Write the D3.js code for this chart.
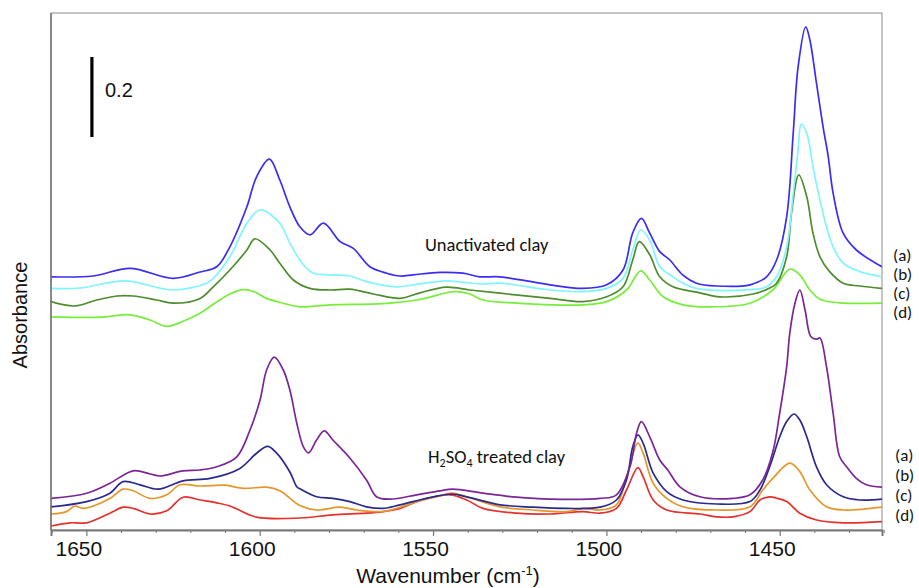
<!DOCTYPE html>
<html>
<head>
<meta charset="utf-8">
<script src="https://cdn.jsdelivr.net/npm/d3@7"></script>
<style>
  body { margin: 0; background: #fff; }
  text { font-family: "Liberation Sans", Arial, sans-serif; }
  .note { font-family: Carlito, Lato, "Liberation Sans", sans-serif; }
</style>
</head>
<body>
<svg id="chart" width="919" height="588"></svg>
<script>
// IR spectra of adsorbed pyridine, [wavenumber (cm-1), absorbance incl. stacking offset]
// Unactivated clay
var unactA = [[1660.2,0.633],[1648.1,0.635],[1637.4,0.654],[1625.0,0.629],[1617.2,0.645],[1612.4,0.658],[1608.6,0.708],[1603.7,0.808],[1600.9,0.883],[1597.2,0.927],[1594.2,0.875],[1591.3,0.808],[1588.4,0.758],[1585.5,0.738],[1581.6,0.767],[1576.8,0.721],[1573.0,0.704],[1568.2,0.658],[1563.4,0.642],[1559.5,0.635],[1555.7,0.638],[1548.0,0.644],[1541.4,0.642],[1536.5,0.633],[1530.7,0.633],[1516.3,0.613],[1506.8,0.604],[1499.9,0.613],[1495.2,0.650],[1492.4,0.743],[1489.9,0.779],[1487.5,0.742],[1484.6,0.696],[1481.7,0.675],[1478.0,0.638],[1474.0,0.617],[1468.2,0.610],[1458.6,0.613],[1453.8,0.633],[1450.9,0.675],[1448.0,0.783],[1446.1,0.993],[1444.7,1.158],[1442.5,1.258],[1441.3,1.225],[1439.4,1.117],[1437.5,1.008],[1436.0,0.933],[1434.6,0.842],[1431.7,0.742],[1427.9,0.700],[1420.5,0.658]];
var unactB = [[1660.2,0.604],[1651.8,0.605],[1638.8,0.623],[1625.0,0.600],[1615.3,0.617],[1613.4,0.629],[1608.6,0.683],[1603.7,0.767],[1599.9,0.800],[1594.2,0.767],[1591.3,0.717],[1587.4,0.663],[1584.5,0.642],[1579.7,0.638],[1574.0,0.635],[1569.2,0.621],[1560.5,0.608],[1555.7,0.613],[1546.1,0.623],[1536.5,0.615],[1530.7,0.617],[1516.3,0.600],[1506.8,0.596],[1499.9,0.604],[1495.2,0.629],[1492.4,0.700],[1490.1,0.750],[1487.5,0.725],[1484.6,0.658],[1480.8,0.633],[1477.9,0.617],[1473.0,0.602],[1458.6,0.601],[1453.8,0.608],[1450.9,0.633],[1448.0,0.708],[1446.1,0.842],[1444.7,0.950],[1443.8,1.015],[1442.2,0.992],[1440.4,0.908],[1438.4,0.825],[1436.5,0.758],[1434.6,0.708],[1431.7,0.667],[1426.9,0.646],[1420.5,0.633]];
var unactC = [[1660.2,0.571],[1653.3,0.560],[1647.0,0.575],[1641.2,0.585],[1636.5,0.585],[1629.7,0.575],[1625.0,0.567],[1617.2,0.579],[1613.4,0.608],[1608.6,0.650],[1603.7,0.700],[1601.4,0.728],[1597.0,0.700],[1594.2,0.667],[1590.3,0.625],[1585.5,0.604],[1579.7,0.600],[1574.0,0.602],[1567.2,0.590],[1559.5,0.579],[1553.8,0.593],[1546.1,0.607],[1539.4,0.600],[1530.7,0.592],[1516.3,0.579],[1506.8,0.571],[1499.9,0.583],[1495.2,0.608],[1492.4,0.675],[1490.5,0.721],[1487.5,0.688],[1484.6,0.633],[1480.8,0.608],[1473.0,0.593],[1467.3,0.583],[1457.7,0.590],[1452.9,0.605],[1450.9,0.617],[1448.0,0.683],[1446.6,0.793],[1444.5,0.888],[1442.2,0.833],[1440.4,0.742],[1438.4,0.683],[1435.6,0.646],[1431.7,0.617],[1426.9,0.610],[1420.5,0.604]];
var unactD = [[1660.2,0.533],[1646.0,0.532],[1637.4,0.538],[1631.6,0.525],[1626.8,0.509],[1622.1,0.522],[1617.2,0.542],[1612.4,0.570],[1608.6,0.590],[1604.7,0.601],[1601.4,0.595],[1598.0,0.579],[1593.2,0.567],[1588.4,0.558],[1579.7,0.563],[1564.4,0.566],[1554.7,0.575],[1545.1,0.595],[1543.2,0.596],[1539.4,0.590],[1535.6,0.575],[1525.9,0.567],[1516.3,0.563],[1506.8,0.563],[1499.9,0.571],[1494.2,0.600],[1490.1,0.648],[1487.5,0.625],[1483.6,0.583],[1477.9,0.563],[1469.3,0.558],[1458.6,0.567],[1452.0,0.600],[1447.1,0.652],[1444.2,0.638],[1441.3,0.600],[1438.4,0.577],[1432.7,0.568],[1420.5,0.567]];
// H2SO4 treated clay
var acidA = [[1660.2,0.079],[1649.9,0.092],[1643.2,0.117],[1636.5,0.148],[1631.6,0.140],[1628.8,0.135],[1622.1,0.148],[1617.2,0.150],[1612.4,0.158],[1606.6,0.183],[1602.8,0.250],[1599.9,0.325],[1598.0,0.400],[1595.8,0.432],[1593.2,0.400],[1591.3,0.350],[1589.3,0.267],[1587.4,0.208],[1585.9,0.193],[1583.6,0.225],[1581.4,0.248],[1578.9,0.225],[1574.0,0.180],[1569.2,0.125],[1566.3,0.083],[1562.4,0.077],[1554.7,0.088],[1548.0,0.098],[1544.3,0.102],[1535.6,0.092],[1525.9,0.082],[1516.3,0.077],[1501.8,0.079],[1497.1,0.088],[1493.2,0.158],[1491.3,0.242],[1489.9,0.271],[1487.5,0.233],[1484.6,0.175],[1482.3,0.150],[1478.8,0.108],[1473.0,0.083],[1463.5,0.079],[1458.6,0.088],[1454.9,0.125],[1452.0,0.195],[1450.0,0.293],[1448.0,0.408],[1447.1,0.492],[1445.6,0.567],[1444.2,0.600],[1442.7,0.550],[1441.0,0.483],[1439.4,0.477],[1438.4,0.480],[1436.5,0.408],[1434.6,0.292],[1432.7,0.183],[1430.7,0.158],[1427.9,0.129],[1425.0,0.113],[1420.5,0.107]];
var acidB = [[1660.2,0.058],[1649.9,0.071],[1643.2,0.092],[1639.4,0.121],[1634.5,0.113],[1629.3,0.102],[1622.1,0.123],[1614.3,0.129],[1605.7,0.154],[1600.9,0.192],[1597.7,0.209],[1595.1,0.192],[1591.3,0.145],[1589.3,0.108],[1588.4,0.103],[1583.6,0.083],[1578.9,0.079],[1574.0,0.071],[1569.2,0.058],[1564.4,0.054],[1559.5,0.063],[1550.0,0.083],[1544.3,0.090],[1540.3,0.083],[1530.7,0.063],[1521.2,0.057],[1511.5,0.054],[1501.8,0.057],[1497.1,0.075],[1494.2,0.125],[1492.4,0.208],[1490.9,0.238],[1489.4,0.217],[1486.5,0.142],[1482.6,0.096],[1477.9,0.075],[1468.2,0.065],[1458.6,0.071],[1455.7,0.100],[1452.9,0.158],[1450.0,0.233],[1448.0,0.271],[1445.9,0.290],[1444.2,0.275],[1442.2,0.233],[1439.4,0.158],[1436.5,0.113],[1431.7,0.083],[1426.9,0.075],[1420.5,0.077]];
var acidC = [[1660.2,0.040],[1655.7,0.046],[1653.3,0.060],[1651.0,0.054],[1643.2,0.079],[1639.4,0.102],[1636.5,0.098],[1631.6,0.079],[1626.8,0.088],[1623.0,0.113],[1617.2,0.110],[1610.0,0.112],[1604.7,0.104],[1598.0,0.107],[1594.2,0.098],[1588.4,0.061],[1583.6,0.050],[1576.8,0.057],[1572.0,0.050],[1564.4,0.046],[1559.5,0.057],[1554.7,0.071],[1548.0,0.085],[1544.8,0.092],[1540.3,0.083],[1530.7,0.058],[1521.2,0.050],[1511.5,0.046],[1506.8,0.054],[1501.8,0.050],[1497.1,0.063],[1494.2,0.133],[1490.9,0.217],[1489.4,0.192],[1486.5,0.117],[1482.6,0.079],[1477.9,0.058],[1468.2,0.050],[1458.6,0.058],[1454.9,0.100],[1452.0,0.129],[1447.1,0.167],[1444.2,0.146],[1441.3,0.100],[1436.5,0.058],[1431.7,0.050],[1420.5,0.057]];
var acidD = [[1660.2,0.010],[1654.7,0.018],[1649.9,0.018],[1643.2,0.042],[1639.4,0.057],[1636.5,0.054],[1631.6,0.040],[1626.8,0.048],[1622.1,0.082],[1617.2,0.075],[1612.4,0.068],[1608.6,0.060],[1600.9,0.032],[1588.4,0.030],[1578.9,0.038],[1569.2,0.042],[1564.4,0.046],[1559.5,0.054],[1554.7,0.071],[1545.1,0.088],[1540.3,0.075],[1535.6,0.054],[1525.9,0.042],[1516.3,0.040],[1506.8,0.046],[1501.8,0.042],[1497.1,0.054],[1494.2,0.100],[1490.9,0.156],[1489.4,0.133],[1486.5,0.075],[1482.6,0.050],[1473.0,0.040],[1468.2,0.033],[1463.5,0.033],[1458.6,0.046],[1455.7,0.075],[1453.0,0.083],[1451.0,0.080],[1448.0,0.071],[1444.2,0.042],[1439.4,0.025],[1431.7,0.018],[1420.5,0.021]];

var upperColors = ["#3b2cf6", "#80f4ff", "#4e8c2e", "#76ee3a"];
var lowerColors = ["#7a2698", "#2a2a8e", "#e6962b", "#e5302c"];
var seriesLabels = ["(a)", "(b)", "(c)", "(d)"];
var majorTicks = [1650, 1600, 1550, 1500, 1450];
var minorTicks = [1660, 1640, 1630, 1620, 1610, 1590, 1580, 1570, 1560, 1540, 1530, 1520, 1510, 1490, 1480, 1470, 1460, 1440, 1430, 1420];
var xDomain = [1660.2, 1420.5];
var yDomain = [0, 1.2925];
var scaleBar = {wn: 1648.4, base: 0.9825, size: 0.2};

var svg = d3.select('#chart'),
    margin = {top: 13, right: 37, bottom: 58, left: 51},
    width = +svg.attr('width') - margin.left - margin.right,
    height = +svg.attr('height') - margin.top - margin.bottom;

svg.append('rect').attr('width', 919).attr('height', 588).attr('fill', '#fff');

var g = svg.append('g').attr('transform', 'translate(' + margin.left + ',' + margin.top + ')');

var x = d3.scaleLinear().domain(xDomain).range([0, width]);
var y = d3.scaleLinear().domain(yDomain).range([height, 0]);

g.append('clipPath').attr('id', 'plot-clip')
  .append('rect').attr('width', width).attr('height', height);

// frame (top and right in light grey)
g.append('rect')
  .attr('width', width).attr('height', height)
  .attr('fill', 'none').attr('stroke', '#8c8c8c').attr('stroke-width', 1);

var line = d3.line()
  .x(function(d) { return x(d[0]); })
  .y(function(d) { return y(d[1]); })
  .curve(d3.curveCatmullRom.alpha(0.5));

var series = [
  {data: unactA, color: upperColors[0]}, {data: unactB, color: upperColors[1]},
  {data: unactC, color: upperColors[2]}, {data: unactD, color: upperColors[3]},
  {data: acidA, color: lowerColors[0]}, {data: acidB, color: lowerColors[1]},
  {data: acidC, color: lowerColors[2]}, {data: acidD, color: lowerColors[3]}
];

// draw the lower ones first so the darker lines sit on top
g.append('g').attr('clip-path', 'url(#plot-clip)')
  .selectAll('path')
  .data(series.slice().reverse())
  .enter().append('path')
  .attr('d', function(d) { return line(d.data); })
  .attr('fill', 'none')
  .attr('stroke', function(d) { return d.color; })
  .attr('stroke-width', 1.7)
  .attr('stroke-linejoin', 'round');

// minor then major ticks
var minorAxis = g.append('g').attr('transform', 'translate(0,' + height + ')')
  .call(d3.axisBottom(x).tickValues(minorTicks).tickSize(3).tickFormat(''));
var majorAxis = g.append('g').attr('transform', 'translate(0,' + height + ')')
  .call(d3.axisBottom(x).tickValues(majorTicks).tickSize(6).tickFormat(d3.format('d')));
minorAxis.select('.domain').remove();
minorAxis.selectAll('line').attr('stroke', '#777');
majorAxis.select('.domain').attr('stroke', '#7a7a7a').attr('stroke-width', 2);
majorAxis.selectAll('line').attr('stroke', '#777').attr('stroke-width', 1.2);
majorAxis.selectAll('text')
  .attr('y', 26).attr('dy', null).attr('x', -8)
  .attr('fill', '#111')
  .style('font-size', '21px')
  .style('font-family', '"Liberation Sans", Arial, sans-serif');

// left axis line
g.append('line')
  .attr('x1', 0).attr('x2', 0).attr('y1', 0).attr('y2', height)
  .attr('stroke', '#6e6e6e').attr('stroke-width', 1.4);

// 0.2 absorbance scale bar
g.append('line')
  .attr('x1', x(scaleBar.wn)).attr('x2', x(scaleBar.wn))
  .attr('y1', y(scaleBar.base)).attr('y2', y(scaleBar.base + scaleBar.size))
  .attr('stroke', '#000').attr('stroke-width', 3.2);
svg.append('text').attr('x', 105).attr('y', 96.5)
  .style('font-size', '20px').attr('fill', '#111').text('0.2');

// axis titles
var xt = svg.append('text').attr('x', 448).attr('y', 583)
  .attr('text-anchor', 'middle').style('font-size', '21px').attr('fill', '#111');
xt.append('tspan').text('Wavenumber (cm');
xt.append('tspan').attr('dy', -8).style('font-size', '13px').text('-1');
xt.append('tspan').attr('dy', 8).text(')');

svg.append('text')
  .attr('transform', 'translate(27,315) rotate(-90)')
  .attr('text-anchor', 'middle').style('font-size', '20px').attr('fill', '#111')
  .text('Absorbance');

// group captions
svg.append('text').attr('class', 'note').attr('x', 425).attr('y', 251)
  .style('font-size', '18.5px').attr('fill', '#111').text('Unactivated clay');
var h2 = svg.append('text').attr('class', 'note').attr('x', 428).attr('y', 463)
  .style('font-size', '18.5px').attr('fill', '#111');
h2.append('tspan').text('H');
h2.append('tspan').attr('dy', 4).style('font-size', '12px').text('2');
h2.append('tspan').attr('dy', -4).text('SO');
h2.append('tspan').attr('dy', 4).style('font-size', '12px').text('4');
h2.append('tspan').attr('dy', -4).text(' treated clay');

// right-hand series labels, one stacked block per group
function labelBlock(x0, baselines) {
  var t = svg.append('text').attr('class', 'note')
    .style('font-size', '17px').attr('fill', '#111');
  t.selectAll('tspan').data(seriesLabels).enter().append('tspan')
    .attr('x', x0)
    .attr('y', function(d, i) { return baselines[i]; })
    .text(function(d) { return d; });
}
labelBlock(893, [260.5, 279.5, 298.5, 317.5]);
labelBlock(895, [461, 481, 501, 521]);
</script>
</body>
</html>
